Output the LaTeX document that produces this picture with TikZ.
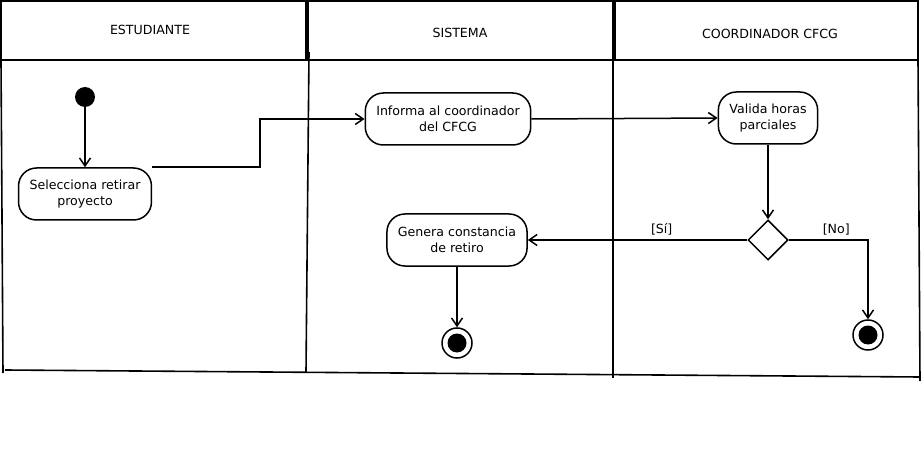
\documentclass[tikz,border=0pt]{standalone}
\usepackage{fontspec}
\newfontfamily\umlfont{DejaVu Sans}
\usetikzlibrary{
  shapes.geometric,
  arrows.meta
}
\definecolor{linecolor}{RGB}{0, 0, 0}
\definecolor{labelcolor}{RGB}{0, 0, 0}
\tikzset{
blocktext/.style={
  align=center,
  font=\umlfont\fontsize{12.6}{15.5}\selectfont,
  text=labelcolor
},
lanelabel/.style={
  blocktext
},
actionblock/.style={
  draw=linecolor,
  line width=1.5pt,
  rounded corners=18pt,
  fill=white,
  minimum height=52pt,
  inner xsep=11pt,
  blocktext
},
startnode/.style={
  circle,
  fill=linecolor,
  minimum size=20pt,
  inner sep=0pt
},
endnode/.style={
  circle,
  draw=linecolor,
  line width=1.5pt,
  minimum size=30pt,
  inner sep=0pt,
  path picture={\fill[linecolor] (path picture bounding box.center) circle (9.5pt);}
},
decisionnode/.style={
  diamond,
  draw=linecolor,
  line width=1.5pt,
  minimum width=40pt,
  minimum height=40pt,
  inner sep=0pt
},
guard/.style={
  blocktext
},
lane/.style={
  draw=linecolor,
  line width=1.6pt
},
arrow/.style={
  -{Straight Barb[length=8pt,width=11pt,line width=1.5pt]},
  line width=1.5pt,
  draw=linecolor
}
}
\begin{document}
\begin{tikzpicture}[x=1pt, y=-1pt]
\useasboundingbox (0,0) rectangle (921,473);

% ============================================================================
% CARRILES
% ============================================================================
\draw[lane] (1,1) rectangle (306,60);
\draw[lane] (308,1) rectangle (613,60);
\draw[lane] (615,1) rectangle (918,60);
\draw[lane] (1,60) -- (918,60);
\draw[lane] (1,60) -- (3,373);
\draw[lane] (309,52) -- (306,372);
\draw[lane] (613,60) -- (613,378);
\draw[lane] (918,60) -- (920,381);
\draw[lane] (5,370) -- (920,377);

\node[lanelabel] (lestudiante) at (150,30) {ESTUDIANTE};
\node[lanelabel] (lsistema) at (460,33) {SISTEMA};
\node[lanelabel] (lcoordinador) at (770,34) {COORDINADOR CFCG};

% ============================================================================
% ACTIVIDADES
% ============================================================================
\node[startnode] (inicio) at (85,97) {};
\node[actionblock] (selecciona) at (85,194) {Selecciona retirar\\proyecto};
\node[actionblock] (informa) at (448,119) {Informa al coordinador\\del CFCG};
\node[actionblock] (valida) at (768,118) {Valida horas\\parciales};
\node[decisionnode] (decision) at (768,240) {};
\node[actionblock] (genera) at (457,240) {Genera constancia\\de retiro};
\node[endnode] (fin1) at (457,343) {};
\node[endnode] (fin2) at (868,335) {};

% ============================================================================
% FLUJOS
% ============================================================================
\draw[arrow] (inicio) -- (selecciona);
\draw[arrow] (selecciona.north east) -- ++(108,0) |- (informa.west);
\draw[arrow] (informa.east) -- (valida.west);
\draw[arrow] (valida) -- (decision);
\draw[arrow] (decision.west) -- node[guard, above=1pt, pos=0.39] {[Sí]} (genera.east);
\draw[arrow] (decision.east) -| node[guard, above=1pt, pos=0.3] {[No]} (fin2.north);
\draw[arrow] (genera) -- (fin1);

\end{tikzpicture}
\end{document}
